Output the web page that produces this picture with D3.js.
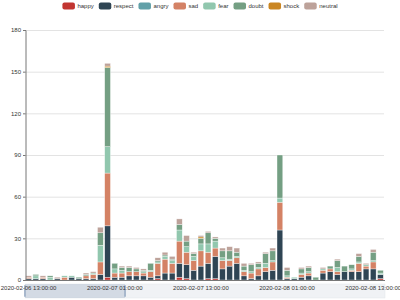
<!DOCTYPE html>
<html>
<head lang="en">
	<meta charset="UTF-8">
	<title>Emotion per hour</title>
	<script src="https://d3js.org/d3.v7.min.js"></script>
	<style type="text/css">
		body { margin: 0; background: #fff; }
		svg text { font-family: "Liberation Sans", Arial, sans-serif; }
	</style>
</head>
<body>
	<svg class="graph" width="400" height="300" version="1.1" xmlns="http://www.w3.org/2000/svg"></svg>
	<script type="text/javascript">
		var hours = [
			'2020-02-06 13:00:00','2020-02-06 14:00:00','2020-02-06 15:00:00','2020-02-06 16:00:00','2020-02-06 17:00:00',
			'2020-02-06 18:00:00','2020-02-06 19:00:00','2020-02-06 20:00:00','2020-02-06 21:00:00','2020-02-06 22:00:00',
			'2020-02-06 23:00:00','2020-02-07 00:00:00','2020-02-07 01:00:00','2020-02-07 02:00:00','2020-02-07 03:00:00',
			'2020-02-07 04:00:00','2020-02-07 05:00:00','2020-02-07 06:00:00','2020-02-07 07:00:00','2020-02-07 08:00:00',
			'2020-02-07 09:00:00','2020-02-07 10:00:00','2020-02-07 11:00:00','2020-02-07 12:00:00','2020-02-07 13:00:00',
			'2020-02-07 14:00:00','2020-02-07 15:00:00','2020-02-07 16:00:00','2020-02-07 17:00:00','2020-02-07 18:00:00',
			'2020-02-07 19:00:00','2020-02-07 20:00:00','2020-02-07 21:00:00','2020-02-07 22:00:00','2020-02-07 23:00:00',
			'2020-02-08 00:00:00','2020-02-08 01:00:00','2020-02-08 02:00:00','2020-02-08 03:00:00','2020-02-08 04:00:00',
			'2020-02-08 05:00:00','2020-02-08 06:00:00','2020-02-08 07:00:00','2020-02-08 08:00:00','2020-02-08 09:00:00',
			'2020-02-08 10:00:00','2020-02-08 11:00:00','2020-02-08 12:00:00','2020-02-08 13:00:00','2020-02-08 14:00:00'
		];
		var emotions = ['happy', 'respect', 'angry', 'sad', 'fear', 'doubt', 'shock', 'neutral'];
		var colors = ['#c23531', '#2f4554', '#61a0a8', '#d48265', '#91c7ae', '#749f83', '#ca8622', '#bda29a'];

		var happy   = [0,0,0,0,0,0,0,0,0,0, 0,2,0,0,0,0,0,0,1,0, 0,2,1,0,0,1,1,0,0,0, 0,0,0,0,0,0,0,0,0,0, 0,0,0,0,0,0,0,0,0,1];
		var respect = [1,1,1,0,1,0,2,1,1,1, 4,37,2,2,3,3,3,2,2,5, 5,10,10,7,10,11,16,8,10,12, 3,1,3,6,7,36,1,1,2,3, 0,5,6,4,6,6,6,8,8,3];
		var angry   = [0,0,0,0,0,0,0,0,0,0, 0,0,0,0,0,0,0,0,0,0, 0,0,0,0,0,0,0,0,0,0, 0,0,0,0,0,0,0,0,0,0, 0,0,0,0,0,0,0,0,0,0];
		var sad     = [1,0,1,0,0,2,0,0,2,3, 9,38,3,3,3,3,2,4,9,10, 7,16,9,7,11,8,6,6,4,4, 3,4,5,3,6,20,1,0,2,2, 0,2,2,2,0,1,6,2,5,0];
		var fear    = [0,2,0,2,0,1,1,0,0,1, 12,19,3,2,0,0,1,1,1,2, 2,8,4,3,5,6,5,2,1,1, 1,1,1,3,1,3,1,1,1,1, 0,1,0,3,0,1,1,1,1,1];
		var doubt   = [0,1,0,1,0,0,0,1,1,0, 9,57,4,2,3,2,1,5,1,1, 1,4,4,2,4,8,2,5,6,3, 3,5,3,7,7,31,4,0,3,3, 2,0,2,5,4,3,4,0,6,2];
		var shock   = [0,0,0,0,0,0,0,0,0,0, 0,1,0,0,0,0,0,0,0,0, 0,0,0,0,1,0,0,0,0,0, 0,0,0,0,0,0,0,0,0,0, 0,0,0,0,0,0,0,0,0,0];
		var neutral = [1,0,1,0,1,0,0,0,1,1, 4,2,0,1,1,1,1,0,2,2, 2,4,4,1,1,1,1,2,3,3, 2,1,1,1,2,0,2,0,1,1, 0,1,0,1,0,0,2,1,2,0];

		var yTicks = [0, 30, 60, 90, 120, 150, 180];
		var xLabelEvery = 12;

		var seriesData = [happy, respect, angry, sad, fear, doubt, shock, neutral];
		var rows = hours.map(function (h, i) {
			var r = { hour: h };
			emotions.forEach(function (e, k) { r[e] = seriesData[k][i]; });
			return r;
		});

		var svg = d3.select('svg');
		var plotLeft = 25, plotRight = 384, plotTop = 30, plotBottom = 280;

		var x = d3.scaleBand().domain(hours).range([plotLeft, plotRight]).paddingInner(0.2).paddingOuter(0.1);
		var y = d3.scaleLinear().domain([0, 180]).range([plotBottom, plotTop]);
		var color = d3.scaleOrdinal().domain(emotions).range(colors);

		// grid
		svg.append('g').selectAll('line').data(yTicks.slice(1)).enter().append('line')
			.attr('x1', plotLeft).attr('x2', plotRight)
			.attr('y1', function (d) { return y(d) + 0.5; })
			.attr('y2', function (d) { return y(d) + 0.5; })
			.attr('stroke', '#e3e3e3').attr('stroke-width', 1);

		// bars
		var stacked = d3.stack().keys(emotions)(rows);
		svg.append('g').selectAll('g').data(stacked).enter().append('g')
			.attr('fill', function (d) { return color(d.key); })
			.selectAll('rect').data(function (d) { return d.filter(function (s) { return s[1] > s[0]; }); })
			.enter().append('rect')
			.attr('x', function (d) { return x(d.data.hour); })
			.attr('width', x.bandwidth())
			.attr('y', function (d) { return y(d[1]); })
			.attr('height', function (d) { return y(d[0]) - y(d[1]); })
			.attr('stroke', '#fff').attr('stroke-width', 0.5).attr('stroke-opacity', 0.7);

		// y axis
		var yAxis = d3.axisLeft(y).tickValues(yTicks).tickSize(2.5).tickPadding(2);
		var yg = svg.append('g').attr('transform', 'translate(' + (plotLeft + 0.5) + ',0)').call(yAxis);
		yg.selectAll('path, line').attr('stroke', '#777');
		yg.selectAll('text').attr('fill', '#333').style('font-size', '6px');

		// x axis line
		svg.append('line').attr('x1', plotLeft).attr('x2', plotRight + 1)
			.attr('y1', plotBottom + 0.5).attr('y2', plotBottom + 0.5)
			.attr('stroke', '#777').attr('stroke-width', 1);

		// data zoom slider
		var dz = svg.append('g');
		dz.append('rect').attr('x', plotLeft).attr('y', 284).attr('width', plotRight + 1 - plotLeft).attr('height', 14)
			.attr('fill', '#f0f2f5').attr('stroke', '#e3e6eb').attr('stroke-width', 0.5);
		dz.append('rect').attr('x', plotLeft).attr('y', 284).attr('width', 100).attr('height', 14)
			.attr('fill', 'rgba(167,183,203,0.4)');
		[plotLeft, plotLeft + 100].forEach(function (hx) {
			dz.append('rect').attr('x', hx - 1).attr('y', 285).attr('width', 2).attr('height', 12)
				.attr('rx', 1).attr('fill', '#a7b7cc');
		});

		// x labels
		svg.append('g').selectAll('text')
			.data(hours.filter(function (h, i) { return i % xLabelEvery === 0; }))
			.enter().append('text')
			.attr('x', function (d) { return x(d) + x.bandwidth() / 2; })
			.attr('y', 289.5)
			.attr('text-anchor', 'middle')
			.attr('fill', '#333')
			.style('font-size', '6px')
			.text(function (d) { return d; });

		// legend
		var lg = svg.append('g');
		var items = lg.selectAll('g').data(emotions).enter().append('g');
		items.append('rect').attr('width', 12.5).attr('height', 7).attr('rx', 2)
			.attr('y', 2.5).attr('fill', function (d) { return color(d); });
		items.append('text').attr('x', 15).attr('y', 8.2)
			.attr('fill', '#333').style('font-size', '6px')
			.text(function (d) { return d; });
		var widths = [];
		items.each(function () { widths.push(d3.select(this).select('text').node().getComputedTextLength()); });
		var total = d3.sum(widths, function (w) { return 15 + w; }) + 5 * (widths.length - 1);
		var cx = 200 - total / 2;
		items.attr('transform', function (d, i) {
			var t = 'translate(' + cx + ',0)';
			cx += 15 + widths[i] + 5;
			return t;
		});
	</script>
</body>
</html>
